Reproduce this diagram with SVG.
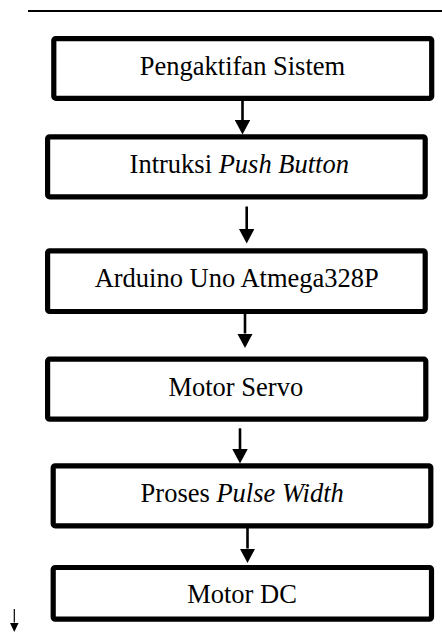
<svg xmlns="http://www.w3.org/2000/svg" width="442" height="632" viewBox="0 0 442 632">
<style>
.box{fill:#fff;stroke:#000;stroke-width:5.2;stroke-linejoin:round}
.lbl{font-family:'Liberation Serif','DejaVu Serif',serif;font-size:26.5px;fill:#000;text-anchor:middle}
.conn{stroke:#000;stroke-width:2.6;fill:none}
.thin{stroke:#000;stroke-width:1.2;fill:none}
</style>
<defs>
<marker id="ah" markerUnits="userSpaceOnUse" viewBox="0 0 14.5 15.5" refX="0" refY="7.75" markerWidth="14.5" markerHeight="15.5" orient="auto">
<path d="M0,0 L14.5,7.75 L0,15.5 z" fill="#000"/>
</marker>
<marker id="ahs" markerUnits="userSpaceOnUse" viewBox="0 0 9.5 9" refX="0" refY="4.5" markerWidth="9.5" markerHeight="9" orient="auto">
<path d="M0,0 L9.5,4.5 L0,9 z" fill="#000"/>
</marker>
</defs>
<line x1="28" y1="11" x2="442" y2="11" stroke="#000" stroke-width="1.8"/>
<g id="connectors">
<line class="conn" x1="242.5" y1="101" x2="242.5" y2="120" marker-end="url(#ah)"/>
<line class="conn" x1="246.7" y1="206.5" x2="246.7" y2="229" marker-end="url(#ah)"/>
<line class="conn" x1="245" y1="314" x2="245" y2="333.5" marker-end="url(#ah)"/>
<line class="conn" x1="240" y1="428.3" x2="240" y2="449" marker-end="url(#ah)"/>
<line class="conn" x1="247.5" y1="528" x2="247.5" y2="548.5" marker-end="url(#ah)"/>
<line class="thin" x1="14.3" y1="609" x2="14.3" y2="622.5" marker-end="url(#ahs)"/>
</g>
<g id="n1">
<rect class="box" x="53.8" y="38.6" width="377.9" height="59.7" rx="2"/>
<text class="lbl" x="242.5" y="75" font-family="Liberation Serif, DejaVu Serif, serif">Pengaktifan Sistem</text>
</g>
<g id="n2">
<rect class="box" x="47.6" y="136.8" width="377.6" height="60" rx="2"/>
<text class="lbl" x="239.3" y="172.7" font-family="Liberation Serif, DejaVu Serif, serif">Intruksi <tspan font-style="italic">Push Button</tspan></text>
</g>
<g id="n3">
<rect class="box" x="47.6" y="250.8" width="377.6" height="60.7" rx="2"/>
<text class="lbl" x="236.7" y="287.3" font-family="Liberation Serif, DejaVu Serif, serif">Arduino Uno Atmega328P</text>
</g>
<g id="n4">
<rect class="box" x="47.6" y="359.2" width="378.2" height="60" rx="2"/>
<text class="lbl" x="235.8" y="396" font-family="Liberation Serif, DejaVu Serif, serif">Motor Servo</text>
</g>
<g id="n5">
<rect class="box" x="53.2" y="465.8" width="377.6" height="60" rx="2"/>
<text class="lbl" x="242.2" y="502.3" font-family="Liberation Serif, DejaVu Serif, serif">Proses <tspan font-style="italic">Pulse Width</tspan></text>
</g>
<g id="n6">
<rect class="box" x="53.2" y="567.5" width="378.3" height="51.7" rx="2"/>
<text class="lbl" x="242" y="603.3" font-family="Liberation Serif, DejaVu Serif, serif">Motor DC</text>
</g>
</svg>
